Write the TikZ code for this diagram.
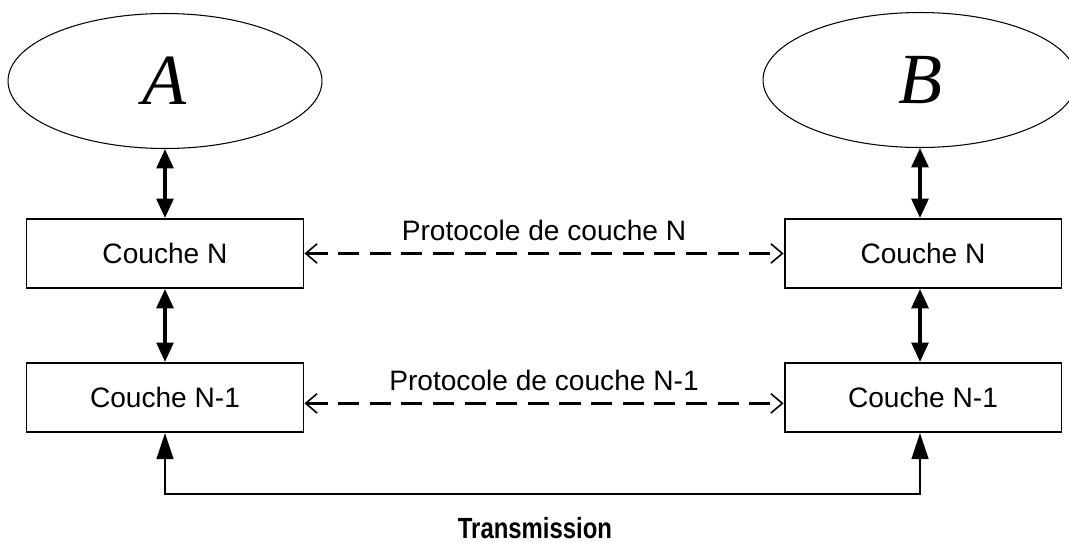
\documentclass[tikz,border=0pt]{standalone}
\usepackage{fontspec}
\setmainfont{Liberation Sans}
\newfontfamily\hostfont{Liberation Serif}
\usepackage{graphicx}
\usetikzlibrary{positioning,shapes.geometric,arrows.meta}

\begin{document}
\begin{tikzpicture}[x=0.02cm,y=-0.02cm,
  host/.style={draw,ellipse,line width=0.6pt,minimum width=6.28cm,minimum height=2.7cm,inner sep=0pt,
    font=\hostfont\itshape\fontsize{41}{41}\selectfont},
  layer/.style={draw,line width=1.1pt,minimum width=5.54cm,minimum height=1.38cm,inner sep=0pt,
    font=\fontsize{16}{19}\selectfont},
  iface/.style={{Triangle[length=11pt,width=9.5pt]}-{Triangle[length=11pt,width=9.5pt]},line width=2pt},
  peer/.style={{Straight Barb[length=6.5pt,width=11pt,line width=0.9pt]}-{Straight Barb[length=6.5pt,width=11pt,line width=0.9pt]},
    line width=1.6pt,dash pattern=on 12pt off 6pt},
  wire/.style={{Triangle[length=15pt,width=9.5pt]}-{Triangle[length=15pt,width=9.5pt]},line width=1.5pt},
  ]
  \useasboundingbox (0,0) rectangle (1069,542);

  \node[host] (A) at (165,81) {A};
  \node[host] (B) at (920,80) {B};
  \node[layer,below=1.38cm of A] (couche N A) {Couche N};
  \node[layer,below=1.46cm of couche N A] (couche N-1 A) {Couche N-1};
  \node[layer,xshift=0.06cm] (couche N B) at (couche N A -| B) {Couche N};
  \node[layer,xshift=0.06cm] (couche N-1 B) at (couche N-1 A -| B) {Couche N-1};
  \coordinate (bus A) at (165,494);

  \draw[iface] (A) -- (couche N A);
  \draw[iface] (couche N A) -- (couche N-1 A);
  \draw[iface] (B.south) -- (B.south |- couche N B.north);
  \draw[iface] (B.south |- couche N B.south) -- (B.south |- couche N-1 B.north);

  \draw[peer] (couche N A) -- node[above=6.2pt,inner sep=0pt,font=\fontsize{16}{19}\selectfont] (proto N) {Protocole de couche N} (couche N B);
  \draw[peer] ([yshift=-0.12cm]couche N-1 A.east) -- node[above=6.2pt,inner sep=0pt,font=\fontsize{16}{19}\selectfont] (proto N-1) {Protocole de couche N-1} ([yshift=-0.12cm]couche N-1 B.west);

  \draw[wire] (couche N-1 A) -- (bus A) -| (B.south |- couche N-1 B.south);
  \node[font=\bfseries\fontsize{16.6}{19}\selectfont,anchor=base] (transmission) at (535,538)
    {\scalebox{0.82}[1]{Transmission}};
\end{tikzpicture}
\end{document}
